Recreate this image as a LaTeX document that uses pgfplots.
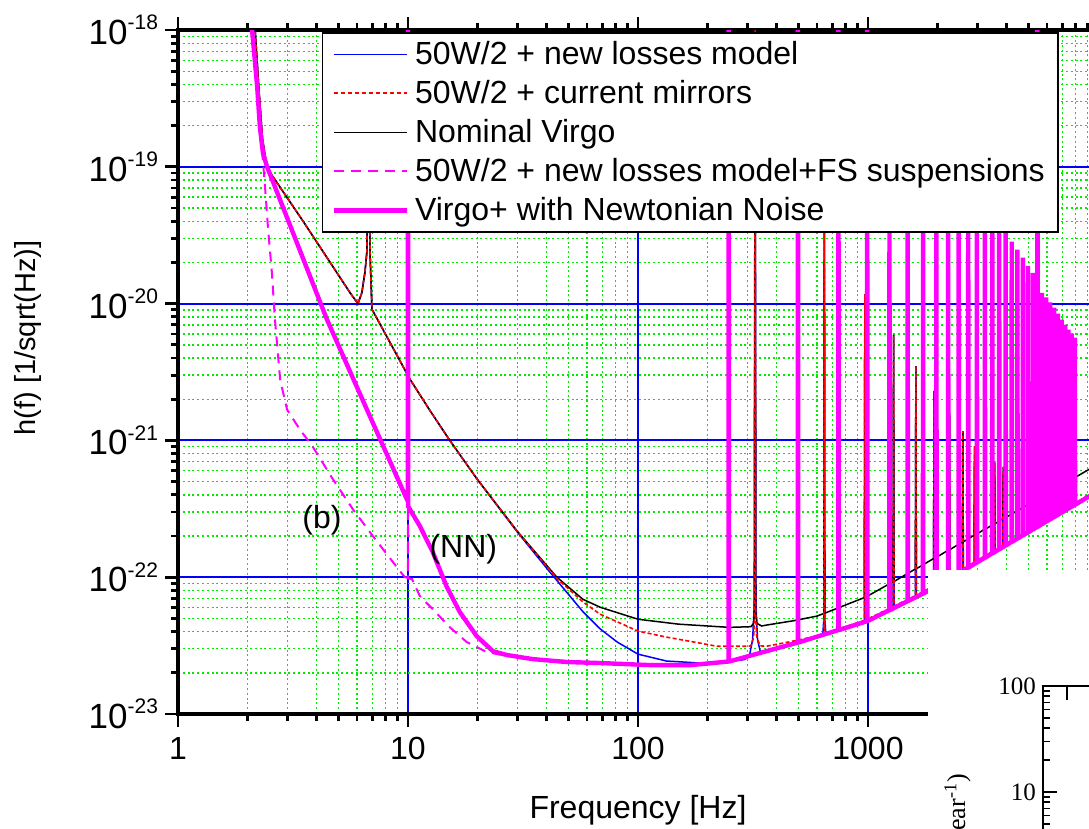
\documentclass[border=0pt]{standalone}
\usepackage{pgfplots}
\pgfplotsset{compat=1.18}
\usepackage{fontspec}
\setmainfont{Liberation Sans}
\newfontfamily\seriffont{Liberation Serif}
\definecolor{gridblue}{RGB}{0,0,255}
\definecolor{gridgreen}{RGB}{0,235,0}
\definecolor{nnmag}{RGB}{255,0,255}
\definecolor{lossblue}{RGB}{0,0,255}
\definecolor{mirrred}{RGB}{255,0,0}

\begin{document}
\begin{tikzpicture}
% picture = 1089 x 829 px, 1 px = 0.5 pt
\path[use as bounding box] (0,0) rectangle (544.5pt,414.5pt);
\clip (0,0) rectangle (544.5pt,414.5pt);
\begin{axis}[
  at={(89pt,57.5pt)}, anchor=south west,
  scale only axis, width=460pt, height=342pt,
  xmode=log, ymode=log,
  xmin=1, xmax=10000, ymin=1e-23, ymax=1e-18,
  xtick={1,10,100,1000,10000},
  ytick={1e-23,1e-22,1e-21,1e-20,1e-19,1e-18},
  minor xtick={2,3,4,5,6,7,8,9,20,30,40,50,60,70,80,90,200,300,400,500,600,700,800,900,
    2000,3000,4000,5000,6000,7000,8000,9000},
  minor ytick={2e-23,3e-23,4e-23,5e-23,6e-23,7e-23,8e-23,9e-23,
    2e-22,3e-22,4e-22,5e-22,6e-22,7e-22,8e-22,9e-22,
    2e-21,3e-21,4e-21,5e-21,6e-21,7e-21,8e-21,9e-21,
    2e-20,3e-20,4e-20,5e-20,6e-20,7e-20,8e-20,9e-20,
    2e-19,3e-19,4e-19,5e-19,6e-19,7e-19,8e-19,9e-19},
  tick align=outside,
  major tick length=6.5pt, minor tick length=3.5pt,
  tick style={black, line width=1.4pt},
  axis line style={line width=1.8pt},
  grid=both,
  major grid style={draw=gridblue, line width=1pt, solid},
  minor grid style={draw=gridgreen, line width=0.7pt, dash pattern=on 1pt off 1.4pt},
  xticklabel={\pgfmathparse{int(round(exp(\tick)))}\pgfmathresult},
  yticklabel={\pgfmathparse{int(round(\tick/ln(10)))}10\raisebox{7.3pt}{\fontsize{10.5}{10.5}\selectfont\pgfmathresult}},
  xticklabel style={font=\fontsize{16}{16}\selectfont, yshift=-1.5pt},
  yticklabel style={font=\fontsize{17.5}{17.5}\selectfont},
  xlabel={Frequency [Hz]},
  xlabel style={font=\fontsize{16}{16}\selectfont, at={(axis description cs:0.5,0)}, anchor=base, yshift=-52pt},
  ylabel={h(f) [1/sqrt(Hz)]},
  ylabel style={font=\fontsize{14.5}{14.5}\selectfont, at={(axis description cs:-0.1554,0.55)}, anchor=base},
  legend style={at={(0.1565,0.997)}, anchor=north west, draw=black, line width=0.75pt, fill=white,
    font=\fontsize{16}{20}\selectfont, cells={anchor=west}, inner xsep=4.5pt, inner ysep=1pt,
    column sep=1pt,
    nodes={inner xsep=2pt, inner ysep=0pt, text height=15pt, text depth=4.5pt}},
  legend image code/.code={\draw[#1] (0pt,0pt) -- (36.5pt,0pt);},
]
\addlegendimage{lossblue, line width=0.75pt}
\addlegendentry{50W/2 + new losses model}
\addlegendimage{mirrred, line width=1pt, dash pattern=on 2.2pt off 1.3pt}
\addlegendentry{50W/2 + current mirrors}
\addlegendimage{black, line width=0.75pt}
\addlegendentry{Nominal Virgo}
\addlegendimage{nnmag, line width=1pt, dash pattern=on 5pt off 3.5pt}
\addlegendentry{50W/2 + new losses model+FS suspensions}
\addlegendimage{nnmag, line width=2.2pt}
\addlegendentry{Virgo+ with Newtonian Noise}

% 50W/2 + new losses model
\addplot[lossblue, line width=0.75pt, forget plot] coordinates {
(2.15,1.2e-18) (2.25,3.6e-19) (2.33,1.6e-19) (2.44,9.8e-20) (3.5,4.0e-20) (5.6,1.2e-20)
(6.06,1.0e-20) (6.3,1.2e-20) (6.5,1.7e-20) (6.62,2.35e-20) (6.70,1e-19) (6.73,3e-19)
(6.76,1e-19) (6.84,2.35e-20) (6.97,9.1e-21) (8.3,5.3e-21) (10.2,2.8e-21) (12.5,1.64e-21)
(15.2,1e-21) (20,5.2e-22) (30,2.12e-22)
(41.4,1.09e-22) (57.6,5.6e-23) (68.4,4.2e-23) (81.2,3.36e-23) (100,2.74e-23) (133,2.44e-23)
(186,2.36e-23) (250,2.42e-23) (290,2.5e-23) (305,2.65e-23) (315,3.5e-23) (320,6e-23) (323,1e-18)
(326,6e-23) (331,3.5e-23) (342,2.75e-23) (360,2.87e-23) (506,3.36e-23)
(636,3.78e-23) (643,5e-23) (646,1e-19) (649,5e-23) (656,3.83e-23)
(964,4.7e-23) (969,1.17e-20) (974,4.72e-23) (1286,5.92e-23) (1292,5.9e-21) (1298,5.96e-23)
(1607,7.13e-23) (1615,3.5e-21) (1623,7.17e-23) (1928,8.37e-23) (1938,2.3e-21) (1948,8.41e-23)
(2250,9.75e-23) (2261,1.6e-21) (2272,9.79e-23) (2571,1.113e-22) (2584,1.17e-21) (2597,1.117e-22)
(2892,1.251e-22) (2907,9.1e-22) (2922,1.255e-22) (3214,1.389e-22) (3230,7.5e-22) (3246,1.393e-22)
(3535,1.527e-22) (3553,6.9e-22) (3571,1.531e-22) (3857,1.664e-22) (3876,6.4e-22) (3895,1.668e-22)
(9140,3.9e-22) (10000,4.27e-22)};

% Nominal Virgo
\addplot[black, line width=0.75pt, forget plot] coordinates {
(2.15,1.2e-18) (2.25,3.6e-19) (2.33,1.6e-19) (2.44,9.8e-20) (3.5,4.0e-20) (5.6,1.2e-20)
(6.06,1.0e-20) (6.3,1.2e-20) (6.5,1.7e-20) (6.62,2.35e-20) (6.70,1e-19) (6.73,3e-19)
(6.76,1e-19) (6.84,2.35e-20) (6.97,9.1e-21) (8.3,5.3e-21) (10.2,2.8e-21) (12.5,1.64e-21)
(15.2,1e-21) (20,5.2e-22) (30,2.15e-22)
(44.4,1e-22) (57.6,6.9e-23) (68.4,6.04e-23) (100,4.93e-23) (150,4.54e-23) (250,4.3e-23)
(310,4.35e-23) (318,4.6e-23) (321,5.5e-23) (323,1e-18) (325,5.5e-23) (329,4.6e-23)
(345,4.4e-23) (362,4.47e-23) (472,4.8e-23) (600,5.2e-23) (637,5.4e-23)
(643,5.44e-23) (646,1e-19) (649,5.46e-23)
(964,7.1e-23) (969,1.17e-20) (974,7.13e-23) (1286,9.27e-23) (1292,5.9e-21) (1298,9.31e-23)
(1607,1.149e-22) (1615,3.5e-21) (1623,1.153e-22) (1928,1.369e-22) (1938,2.3e-21) (1948,1.373e-22)
(2250,1.589e-22) (2261,1.6e-21) (2272,1.593e-22) (2571,1.809e-22) (2584,1.17e-21) (2597,1.813e-22)
(2892,2.026e-22) (2907,9.1e-22) (2922,2.03e-22) (3214,2.244e-22) (3230,7.5e-22) (3246,2.248e-22)
(3535,2.461e-22) (3553,6.9e-22) (3571,2.465e-22) (3857,2.678e-22) (3876,6.4e-22) (3895,2.682e-22)
(9140,6.14e-22) (10000,6.7e-22)};

% 50W/2 + current mirrors
\addplot[mirrred, line width=0.8pt, dash pattern=on 2pt off 1.2pt, forget plot] coordinates {
(2.15,1.2e-18) (2.25,3.6e-19) (2.33,1.6e-19) (2.44,9.8e-20) (3.5,4.0e-20) (5.6,1.2e-20)
(6.06,1.0e-20) (6.3,1.2e-20) (6.5,1.7e-20) (6.62,2.35e-20) (6.70,1e-19) (6.73,3e-19)
(6.76,1e-19) (6.84,2.35e-20) (6.97,9.1e-21) (8.3,5.3e-21) (10.2,2.8e-21) (12.5,1.64e-21)
(15.2,1e-21) (20,5.2e-22) (30,2.14e-22)
(44.4,9.8e-23) (57.6,6.6e-23) (68.4,5.37e-23) (100,4.04e-23) (133,3.65e-23) (186,3.30e-23)
(220,3.13e-23) (300,3.13e-23) (310,3.15e-23) (318,3.6e-23) (321,5e-23) (323,1e-18) (325,5e-23)
(329,3.6e-23) (340,3.15e-23) (362,3.13e-23) (472,3.41e-23) (600,3.72e-23)
(643,3.85e-23) (646,1e-19) (649,3.87e-23) (800,4.35e-23)
(964,4.83e-23) (969,1.17e-20) (974,4.86e-23) (1286,6.1e-23) (1292,5.9e-21) (1298,6.14e-23)
(1607,7.34e-23) (1615,3.5e-21) (1623,7.38e-23) (1928,8.62e-23) (1938,2.3e-21) (1948,8.66e-23)
(2250,1.004e-22) (2261,1.6e-21) (2272,1.008e-22) (2571,1.146e-22) (2584,1.17e-21) (2597,1.15e-22)
(2892,1.288e-22) (2907,9.1e-22) (2922,1.292e-22) (3214,1.431e-22) (3230,7.5e-22) (3246,1.435e-22)
(3535,1.573e-22) (3553,6.9e-22) (3571,1.577e-22) (3857,1.714e-22) (3876,6.4e-22) (3895,1.718e-22)
(9140,4.0e-22) (10000,4.38e-22)};

% 50W/2 + new losses model + FS suspensions
\addplot[nnmag, line width=1pt, dash pattern=on 5pt off 3.5pt, forget plot] coordinates {
(2.07,1.3e-18) (2.21,3.84e-19) (2.30,1.6e-19) (2.39,7.15e-20) (2.46,3.65e-20) (2.56,1.68e-20)
(2.64,7.64e-21) (2.78,2.79e-21) (2.98,1.68e-21) (3.39,1.2e-21) (3.87,8.9e-22) (4.72,5.19e-22)
(5.77,3.13e-22) (7.05,1.99e-22) (9.22,1.11e-22) (9.7,1.0e-22) (9.98,9.9e-23) (10.0,1e-17)
(10.02,9.8e-23) (10.4,9.7e-23) (11.27,7.26e-23) (12.83,5.83e-23) (15.2,4.31e-23) (18.0,3.36e-23)
(22.0,2.84e-23) (25.1,2.72e-23) (34.9,2.52e-23) (68.3,2.36e-23) (112,2.28e-23) (170,2.28e-23)
(243,2.40e-23) (506,3.36e-23) (995,4.78e-23) (1824,7.9e-23) (10000,4.33e-22)};

% Virgo+ with Newtonian Noise
\addplot[nnmag, line width=2.2pt, line join=bevel, forget plot] coordinates {
(2.07,1.3e-18) (2.21,3.84e-19) (2.27,1.96e-19) (2.34,1.26e-19) (2.44,1.0e-19) (3.0,4.13e-20)
(4.45,7.6e-21) (6.5,1.81e-21) (9.9,3.7e-22) (9.98,3.6e-22) (10.0,1e-17) (10.02,3.3e-22)
(10.2,3.13e-22) (11.27,2.36e-22) (12.83,1.52e-22) (14.7,8.6e-23) (16.8,5.56e-23) (19.9,3.71e-23)
(23.4,2.88e-23) (26.9,2.70e-23) (34.9,2.52e-23) (49,2.40e-23) (68.3,2.36e-23) (112,2.28e-23)
(170,2.28e-23)
(247.5,2.42e-23) (248,1e-17) (248.5,2.42e-23)
(495,3.33e-23) (496,1e-17) (497,3.33e-23)
(742.5,4.11e-23) (744,1e-17) (745.5,4.11e-23)
(990,4.77e-23) (992,1e-17) (994,4.77e-23)
(1237.5,5.74e-23) (1240,1e-19) (1242.5,5.74e-23)
(1485,6.68e-23) (1488,1e-19) (1491,6.68e-23)
(1732.5,7.59e-23) (1736,1e-19) (1739.5,7.59e-23)
(1980,8.59e-23) (1984,1e-19) (1988,8.59e-23)
(2227.5,9.65e-23) (2232,1e-19) (2236.5,9.65e-23)
(2475,1.071e-22) (2480,1e-19) (2485,1.071e-22)
(2722.5,1.176e-22) (2728,1e-19) (2733.5,1.176e-22)
(2970,1.282e-22) (2976,1e-19) (2982,1.282e-22)
(3217.5,1.389e-22) (3224,1e-19) (3230.5,1.389e-22)
(3465,1.494e-22) (3472,1e-19) (3479,1.494e-22)
(3712.5,1.600e-22) (3720,1e-19) (3727.5,1.600e-22)
(3960,1.706e-22) (3968,1e-19) (3976,1.706e-22)
(4207.5,1.811e-22) (4216,2.84e-20) (4224.5,1.811e-22)
(4455,1.917e-22) (4464,2.48e-20) (4473,1.917e-22)
(4702.5,2.022e-22) (4712,2.17e-20) (4721.5,2.022e-22)
(4950,2.127e-22) (4960,1.89e-20) (4970,2.127e-22)
(5197.5,2.233e-22) (5208,1.68e-20) (5218.5,2.233e-22)
(5445,2.338e-22) (5456,1e-17) (5467,2.338e-22)
(5692.5,2.443e-22) (5704,1.20e-20) (5715.5,2.443e-22)
(5940,2.549e-22) (5952,1.11e-20) (5964,2.549e-22)
(6187.5,2.654e-22) (6200,1.02e-20) (6212.5,2.654e-22)
(6435,2.758e-22) (6448,9.35e-21) (6461,2.758e-22)
(6682.5,2.864e-22) (6696,8.45e-21) (6709.5,2.864e-22)
(6930,2.968e-22) (6944,7.64e-21) (6958,2.968e-22)
(7177.5,3.073e-22) (7192,7.03e-21) (7206.5,3.073e-22)
(7425,3.178e-22) (7440,6.46e-21) (7455,3.178e-22)
(7672.5,3.282e-22) (7688,6.04e-21) (7703.5,3.282e-22)
(7920,3.388e-22) (7936,5.65e-21) (7952,3.388e-22)
(9140,3.9e-22) (10000,4.27e-22)};

\node[font=\fontsize{16}{16}\selectfont] at (axis cs:4.23,2.61e-22) {(b)};
\node[font=\fontsize{16}{16}\selectfont] at (axis cs:17.4,1.6e-22) {(NN)};
\end{axis}

% overlapping inset panel (lower right)
\fill[white] (464pt,0pt) rectangle (545pt,129.5pt);
\begin{axis}[
  at={(521.5pt,71.5pt)}, anchor=north west,
  scale only axis, width=100pt, height=106pt,
  ymode=log, ymin=1, ymax=100, xmin=0, xmax=1,
  xtick={0.12}, xticklabels={},
  ytick={10,100}, yticklabels={10,100},
  minor ytick={2,3,4,5,6,7,8,9,20,30,40,50,60,70,80,90},
  tick align=inside,
  major tick length=7pt, minor tick length=3.5pt,
  axis line style={line width=0.8pt},
  tick style={black, line width=0.8pt},
  yticklabel style={font=\seriffont\fontsize{12.5}{12.5}\selectfont},
]
\end{axis}
\node[rotate=90, anchor=base east, font=\seriffont\fontsize{13}{13}\selectfont] at (482.5pt,31pt) {(year\textsuperscript{-1})};
\end{tikzpicture}
\end{document}
